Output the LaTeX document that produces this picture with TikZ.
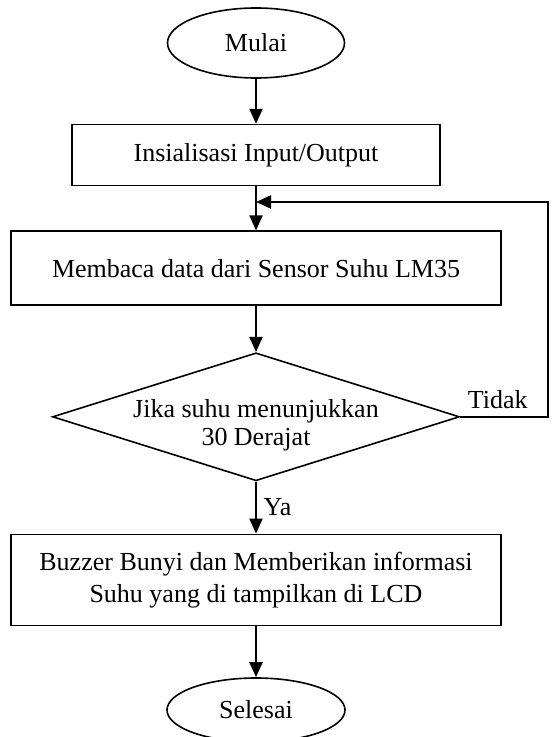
\documentclass[tikz,border=0pt]{standalone}
\usepackage{fontspec}
\setmainfont{Liberation Serif}
\usetikzlibrary{arrows.meta,positioning,shapes.geometric}

\begin{document}
\begin{tikzpicture}[
  x=0.5pt, y=-0.5pt,
  font=\fontsize{13pt}{16pt}\selectfont,
  term/.style={draw, ellipse, line width=0.8pt, inner sep=0pt,
               minimum width=88.5pt, minimum height=35pt},
  box/.style={draw, line width=0.8pt, align=center, inner sep=0pt,
              minimum width=245pt},
  dec/.style={draw, diamond, line width=0.8pt, inner sep=0pt,
              minimum width=203.5pt, minimum height=64pt},
  arrow/.style={-{Triangle[length=7.5pt,width=6.5pt]}, line width=1pt}
]
\useasboundingbox (0,0) rectangle (551,737);
\node[term] (mulai) at (256,43) {Mulai};
\node[box, minimum width=184pt, minimum height=30.5pt, below=22.5pt of mulai] (init)
  {Insialisasi Input/Output};
\node[box, minimum height=37pt, below=22pt of init] (baca)
  {Membaca data dari Sensor Suhu LM35};
\node[dec, below=23pt of baca,
  label={[align=center, font=\fontsize{13pt}{14pt}\selectfont, yshift=-4pt]center:Jika suhu menunjukkan\\30 Derajat}] (cek) {};
\node[box, minimum height=45.5pt, below=26pt of cek] (buzzer)
  {Buzzer Bunyi dan Memberikan informasi\\Suhu yang di tampilkan di LCD};
\node[term, minimum width=89pt, minimum height=32pt, below=25.5pt of buzzer] (selesai)
  {Selesai};
\coordinate (masuk) at (256,202);
\draw[arrow] (mulai) -- (init);
\draw[arrow] (init) -- (baca);
\draw[arrow] (baca) -- (cek);
\draw[arrow] (cek) -- node[right]{Ya} (buzzer);
\draw[arrow] (buzzer) -- (selesai);
\draw[arrow] (cek.east) -- node[above right, pos=0]{Tidak} ++(88,0) |- (masuk);
\end{tikzpicture}
\end{document}
